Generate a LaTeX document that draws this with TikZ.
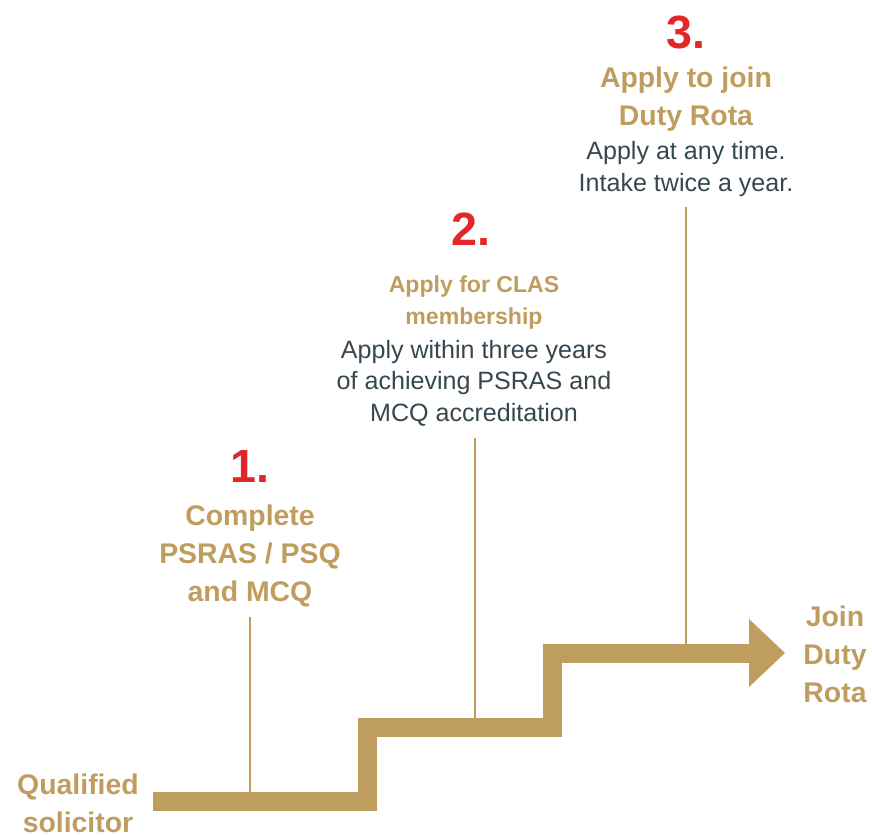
\documentclass[tikz,border=0pt]{standalone}
\usepackage{fontspec}
\setmainfont{Liberation Sans}
\definecolor{gold}{HTML}{BF9D5E}
\definecolor{stepred}{HTML}{E3262A}
\definecolor{slate}{HTML}{37474F}
\tikzset{
  num/.style={text=stepred,font=\fontsize{35}{35}\selectfont\bfseries},
  head/.style={text=gold,font=\fontsize{21.3}{28.5}\selectfont\bfseries,align=center},
  smallhead/.style={text=gold,font=\fontsize{17.3}{24}\selectfont\bfseries,align=center},
  note/.style={text=slate,font=\fontsize{18.8}{23.5}\selectfont,align=center},
  stair/.style={draw=gold,line width=14.25pt,miter limit=10},
  pin/.style={draw=gold,line width=1.2pt}
}
\begin{document}
\begin{tikzpicture}[x=0.75pt,y=-0.75pt]
    \useasboundingbox (0,0) rectangle (872,835);

        % staircase
        \coordinate (S0) at (153,801.5);
        \coordinate (S1) at (367.5,801.5);
        \coordinate (S2) at (367.5,727.5);
        \coordinate (S3) at (552.5,727.5);
        \coordinate (S4) at (552.5,653.5);
        \coordinate (S5) at (750,653.5);
        \draw[stair] (S0) -- (S1) -- (S2) -- (S3) -- (S4) -- (S5);
        \fill[gold] (749,619) -- (785,653) -- (749,687) -- cycle;

        % step 1
        \node[num] (n1) at (250,466) {1.};
        \node[head] (h1) at (250,556) {Complete\\PSRAS / PSQ\\and MCQ};
        \coordinate (b1) at (250,792);
        \draw[pin] (250,617) -- (b1);

        % step 2
        \node[num] (n2) at (471,229) {2.};
        \node[smallhead] (h2) at (474,303) {Apply for CLAS\\membership};
        \node[note] (t2) at (474,383) {Apply within three years\\of achieving PSRAS and\\MCQ accreditation};
        \coordinate (b2) at (475,718);
        \draw[pin] (475,438) -- (b2);

        % step 3
        \node[num] (n3) at (686,32) {3.};
        \node[head] (h3) at (686,99) {Apply to join\\Duty Rota};
        \node[note] (t3) at (686,169) {Apply at any time.\\Intake twice a year.};
        \coordinate (b3) at (686,644);
        \draw[pin] (686,207) -- (b3);

        % ends
        \node[head] (start) at (78,803) {Qualified\\solicitor};
        \node[head] (goal) at (835,654) {Join\\Duty\\Rota};

\end{tikzpicture}
\end{document}
